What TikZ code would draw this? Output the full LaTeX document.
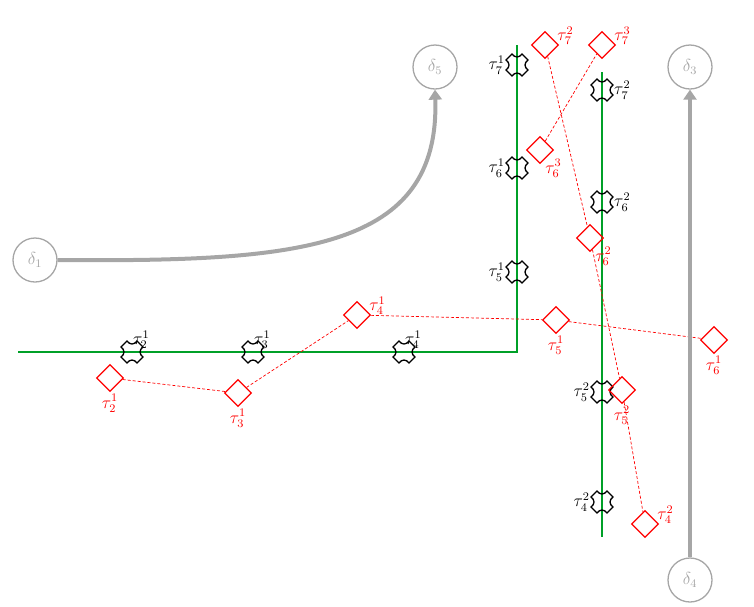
\documentclass[tikz,border=0pt]{standalone}
\usepackage{fontspec}
\usepackage{graphicx}
\setmainfont{Carlito}
\usetikzlibrary{positioning,shapes.geometric,arrows.meta}
\newcommand{\tl}[2]{\scalebox{1.45}{$\tau_{#1}^{#2}$}}
\newcommand{\dl}[1]{\scalebox{1.45}{$\delta_{#1}$}}

\begin{document}
\begin{tikzpicture}[x=1pt, y=-1pt, every node/.style={font=\large},
  track/.style={draw={rgb,255:red,0;green,160;blue,40}, line width=1.3pt},
  est/.style={draw=red, line width=1.3pt, diamond, minimum size=27pt, inner sep=0pt},
  link/.style={red, dash pattern=on 3pt off 2pt, line width=0.7pt},
  ball/.style={circle, draw=gray!70, line width=1.3pt, minimum size=44pt, text=gray!70, inner sep=0pt},
  flow/.style={gray!70, line width=4pt, -{Triangle[length=10pt,width=13pt]}},
  lab/.style={red, inner sep=0pt},
  blab/.style={black, inner sep=0pt}]
  \useasboundingbox (0,0) rectangle (754,606);

  % Tracks
  \coordinate (h0) at (18,352);
  \coordinate (corner) at (517,352);
  \coordinate (vtop) at (517,45);
  \draw[track] (h0) -- (corner) -- (vtop);
  \coordinate (wtop) at (602,72);
  \coordinate (wbot) at (602,537);
  \draw[track] (wtop) -- (wbot);

  % Measurements (black markers)
  \foreach \n/\p in {m21/{132,352}, m31/{253,352}, m41/{404,352},
                     m51/{517,272}, m61/{517,168}, m71/{517,65},
                     m72/{602,90}, m62/{602,202}, m52/{602,392}, m42/{602,502}} {
    \coordinate (\n) at (\p);
    \draw[black, line width=1.3pt, shift={(\n)}]
      (-5,-11) .. controls (-2,-7) and (2,-7) .. (5,-11) -- (11,-5)
      .. controls (7,-2) and (7,2) .. (11,5) -- (5,11)
      .. controls (2,7) and (-2,7) .. (-5,11) -- (-11,5)
      .. controls (-7,2) and (-7,-2) .. (-11,-5) -- cycle;
  }
  \node[blab, anchor=south west] at ([xshift=1pt,yshift=3pt]m21) {\tl{2}{1}};
  \node[blab, anchor=south west] at ([xshift=1pt,yshift=3pt]m31) {\tl{3}{1}};
  \node[blab, anchor=south west] at ([xshift=1pt,yshift=3pt]m41) {\tl{4}{1}};
  \node[blab, left=12pt of m51] {\tl{5}{1}};
  \node[blab, left=12pt of m61] {\tl{6}{1}};
  \node[blab, left=12pt of m71] {\tl{7}{1}};
  \node[blab, right=12pt of m72] {\tl{7}{2}};
  \node[blab, right=12pt of m62] {\tl{6}{2}};
  \node[blab, left=12pt of m52] {\tl{5}{2}};
  \node[blab, left=12pt of m42] {\tl{4}{2}};

  % Estimates (red diamonds)
  \node[est] (e21) at (110,378) {};
  \node[est] (e31) at (238,393) {};
  \node[est] (e41) at (357,315) {};
  \node[est] (e51) at (556,320) {};
  \node[est] (e61) at (714,340) {};
  \node[est] (e72) at (545,45) {};
  \node[est] (e62) at (590,238) {};
  \node[est] (e52) at (622,390) {};
  \node[est] (e42) at (645,524) {};
  \node[est] (e63) at (540,150) {};
  \node[est] (e73) at (602,45) {};
  \node[lab, below=2pt of e21] {\tl{2}{1}};
  \node[lab, below=2pt of e31] {\tl{3}{1}};
  \node[lab, anchor=south west] at ([xshift=-2pt]e41.east) {\tl{4}{1}};
  \node[lab, below=2pt of e51] {\tl{5}{1}};
  \node[lab, below=2pt of e61] {\tl{6}{1}};
  \node[lab, anchor=south west] at ([xshift=-2pt]e72.east) {\tl{7}{2}};
  \node[lab, anchor=north west] at ([xshift=-2pt,yshift=-2pt]e62.south east) {\tl{6}{2}};
  \node[lab, below=2pt of e52] {\tl{5}{2}};
  \node[lab, anchor=south west] at ([xshift=-2pt]e42.east) {\tl{4}{2}};
  \node[lab, anchor=north west] at ([xshift=-2pt,yshift=-2pt]e63.south east) {\tl{6}{3}};
  \node[lab, anchor=south west] at ([xshift=-2pt]e73.east) {\tl{7}{3}};
  \draw[link] (e21) -- (e31) -- (e41) -- (e51) -- (e61);
  \draw[link] (e72) -- (e62) -- (e52) -- (e42);
  \draw[link] (e63) -- (e73);

  % Sources and sinks
  \node[ball] (d5) at (435,67) {\dl{5}};
  \node[ball] (d3) at (690,67) {\dl{3}};
  \node[ball] (d1) at (35,260) {\dl{1}};
  \node[ball] (d4) at (690,580) {\dl{4}};
  \draw[flow] (d1.east) .. controls (300,262) and (440,250) .. (d5.south);
  \draw[flow] (d4) -- (d3);
\end{tikzpicture}
\end{document}
